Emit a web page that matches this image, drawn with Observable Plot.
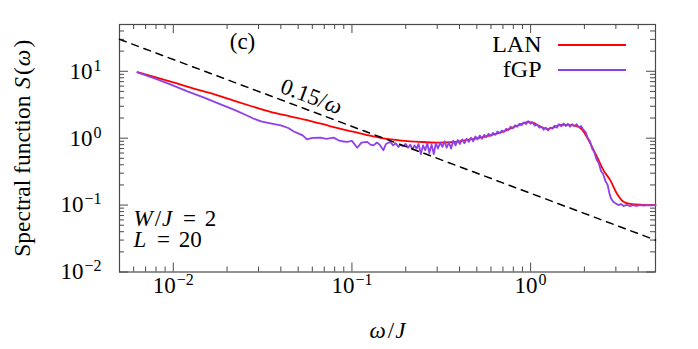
<!DOCTYPE html>
<html><head><meta charset="utf-8">
<script src="https://cdn.jsdelivr.net/npm/d3@7"></script>
<script src="https://cdn.jsdelivr.net/npm/@observablehq/plot@0.6"></script>
<style>body{margin:0;background:#fff} svg text, svg tspan{font-family:"Liberation Serif","DejaVu Serif",serif !important;}</style>
</head><body><div id="chart"></div>
<script>
// ---------- data ----------
const lanOmega = [0.0063, 0.008, 0.010, 0.013, 0.017, 0.022, 0.028, 0.035, 0.045, 0.058, 0.075, 0.095, 0.12, 0.15, 0.19, 0.24, 0.30, 0.38, 0.45, 0.55, 0.68, 0.80, 0.90, 0.96, 1.02, 1.10, 1.18, 1.25, 1.35, 1.47, 1.60, 1.74, 1.85, 1.95, 2.05, 2.16, 2.35, 2.56, 2.79, 3.04, 3.31, 3.61, 4.2, 5.0];
const lanS = [9.7, 8.1, 6.8, 5.5, 4.5, 3.6, 2.95, 2.47, 2.12, 1.82, 1.52, 1.30, 1.12, 0.99, 0.92, 0.88, 0.86, 0.88, 0.95, 1.05, 1.22, 1.45, 1.65, 1.74, 1.72, 1.56, 1.42, 1.37, 1.45, 1.58, 1.58, 1.55, 1.48, 1.32, 1.08, 0.83, 0.53, 0.33, 0.236, 0.149, 0.112, 0.104, 0.101, 0.100];

const fgpOmega = [0.0063, 0.008, 0.0097, 0.012, 0.015, 0.0184, 0.022, 0.0255, 0.028, 0.031, 0.035, 0.040, 0.044, 0.0473, 0.050, 0.053, 0.056, 0.060, 0.0667, 0.072, 0.079, 0.084, 0.088, 0.094, 0.100, 0.107, 0.113, 0.1216, 0.127, 0.132, 0.138, 0.143, 0.150, 0.155, 0.164, 0.170, 0.176, 0.182, 0.187, 0.193, 0.200, 0.206, 0.212, 0.218, 0.224, 0.230, 0.236, 0.243, 0.250, 0.257, 0.264, 0.271, 0.279, 0.287, 0.295, 0.303, 0.312, 0.321, 0.330, 0.339, 0.349, 0.359, 0.369, 0.380, 0.391, 0.402, 0.414, 0.426, 0.438, 0.451, 0.464, 0.477, 0.491, 0.505, 0.520, 0.535, 0.550, 0.566, 0.582, 0.599, 0.616, 0.634, 0.652, 0.671, 0.690, 0.710, 0.730, 0.751, 0.773, 0.795, 0.818, 0.842, 0.866, 0.891, 0.917, 0.943, 0.970, 0.998, 1.027, 1.057, 1.087, 1.118, 1.150, 1.183, 1.217, 1.252, 1.288, 1.325, 1.363, 1.402, 1.442, 1.484, 1.527, 1.571, 1.616, 1.662, 1.710, 1.759, 1.810, 1.862, 1.916, 1.971, 2.03, 2.09, 2.15, 2.21, 2.27, 2.34, 2.41, 2.48, 2.55, 2.62, 2.70, 2.76, 2.82, 2.90, 3.00, 3.10, 3.20, 3.32, 3.45, 3.60, 3.75, 3.90, 4.10, 4.30, 4.55, 4.80, 5.00];
const fgpS = [9.6, 7.7, 6.3, 5.0, 4.0, 3.2, 2.65, 2.22, 1.97, 1.78, 1.66, 1.55, 1.42, 1.26, 1.18, 1.10, 0.96, 1.01, 1.02, 0.98, 1.02, 0.93, 0.90, 0.88, 0.91, 0.72, 0.86, 0.88, 0.80, 0.78, 0.86, 0.80, 0.66, 0.82, 0.88, 0.78, 0.84, 0.74, 0.80, 0.76, 0.82, 0.72, 0.80, 0.68, 0.78, 0.70, 0.82, 0.58, 0.78, 0.66, 0.84, 0.60, 0.80, 0.58, 0.84, 0.70, 0.86, 0.74, 0.90, 0.72, 0.86, 0.70, 0.92, 0.78, 0.94, 0.82, 0.96, 0.84, 0.98, 0.88, 1.02, 0.90, 1.06, 0.96, 1.10, 0.98, 1.12, 1.04, 1.16, 1.08, 1.20, 1.12, 1.26, 1.18, 1.30, 1.24, 1.38, 1.32, 1.48, 1.40, 1.56, 1.48, 1.64, 1.56, 1.72, 1.62, 1.80, 1.64, 1.72, 1.54, 1.60, 1.44, 1.48, 1.34, 1.44, 1.30, 1.44, 1.38, 1.54, 1.44, 1.62, 1.50, 1.66, 1.52, 1.64, 1.48, 1.62, 1.50, 1.62, 1.46, 1.52, 1.34, 1.24, 1.00, 0.90, 0.70, 0.62, 0.48, 0.42, 0.32, 0.29, 0.23, 0.20, 0.15, 0.125, 0.112, 0.106, 0.100, 0.104, 0.097, 0.101, 0.096, 0.100, 0.097, 0.100, 0.098, 0.100, 0.099, 0.100];

// reference power law 0.15/omega (end points)
const refOmega = [0.005, 5];
const refS = [30, 0.03];

const xTicks = [0.01, 0.1, 1];
const xTickLabels = ["10^{\u22122}", "10^{\u22121}", "10^{0}"];
const yTicks = [0.01, 0.1, 1, 10];
const yTickLabels = ["10^{\u22122}", "10^{\u22121}", "10^{0}", "10^{1}"];
const xMinor = [0.005, 0.006, 0.007, 0.008, 0.009, 0.02, 0.03, 0.04, 0.05, 0.06, 0.07, 0.08, 0.09, 0.2, 0.3, 0.4, 0.5, 0.6, 0.7, 0.8, 0.9, 2, 3, 4];
const yMinor = [0.02, 0.03, 0.04, 0.05, 0.06, 0.07, 0.08, 0.09, 0.2, 0.3, 0.4, 0.5, 0.6, 0.7, 0.8, 0.9, 2, 3, 4, 5, 6, 7, 8, 9, 20, 30, 40];

const seriesNames = ["LAN", "fGP"];
const seriesColors = ["#ff0000", "#9040e8"];

// markup: $..$ italic, ^{..} superscript, _ = small extra gap
const xLabel = "$\u03c9$/$J$";
const yLabel = "Spectral function $S$($\u03c9$)";
const panelLabel = "(c)";
const refLabel = "0.15/$\u03c9$";
const paramLabels = ["$W$/$J$ _=_ 2", "$L$ _=_ 20"];

// ---------- tables ----------
const lan = lanOmega.map((w, i) => ({w, s: lanS[i]}));
const fgp = fgpOmega.map((w, i) => ({w, s: fgpS[i]}));
const ref = refOmega.map((w, i) => ({w, s: refS[i]}));

const W = 698, H = 349, mL = 119, mR = 43, mT = 24, mB = 77.5;
const iW = W - mL - mR, iH = H - mT - mB;
const axisCol = "#4a4a4a";
const FS = 23;
const FF = "Liberation Serif";

const plot = Plot.plot({
  width: W, height: H,
  marginLeft: mL, marginRight: mR, marginTop: mT, marginBottom: mB,
  style: {fontFamily: FF, fontSize: FS + "px", background: "#fff", color: "#000", overflow: "visible"},
  x: {type: "log", domain: [0.005, 5]},
  y: {type: "log", domain: [0.01, 50]},
  marks: [
    // inner ticks on all four sides
    Plot.tickX(xTicks, {x: d => d, insetTop: iH - 9, stroke: axisCol}),
    Plot.tickX(xTicks, {x: d => d, insetBottom: iH - 9, stroke: axisCol}),
    Plot.tickX(xMinor, {x: d => d, insetTop: iH - 5, stroke: axisCol}),
    Plot.tickX(xMinor, {x: d => d, insetBottom: iH - 5, stroke: axisCol}),
    Plot.tickY(yTicks, {y: d => d, insetRight: iW - 9, stroke: axisCol}),
    Plot.tickY(yTicks, {y: d => d, insetLeft: iW - 9, stroke: axisCol}),
    Plot.tickY(yMinor, {y: d => d, insetRight: iW - 5, stroke: axisCol}),
    Plot.tickY(yMinor, {y: d => d, insetLeft: iW - 5, stroke: axisCol}),
    Plot.axisX({ticks: xTicks, tickSize: 0, tickPadding: 5, label: null, fontFamily: FF,
      tickFormat: d => xTickLabels[xTicks.indexOf(d)]}),
    Plot.axisY({ticks: yTicks, tickSize: 0, tickPadding: 18, label: null, fontFamily: FF,
      tickFormat: d => yTickLabels[yTicks.indexOf(d)]}),
    Plot.frame({stroke: axisCol, strokeWidth: 1.2}),
    // curves
    Plot.line(lan, {x: "w", y: "s", stroke: seriesColors[0], strokeWidth: 1.8, curve: "monotone-x"}),
    Plot.line(fgp, {x: "w", y: "s", stroke: seriesColors[1], strokeWidth: 1.8}),
    Plot.line(ref, {x: "w", y: "s", stroke: "#000", strokeWidth: 1.5, strokeDasharray: "7,6"}),
    // annotations
    Plot.text([panelLabel], {frameAnchor: "top-left", dx: 123, dy: 17, textAnchor: "middle", lineAnchor: "middle", fontSize: FS, fontFamily: FF}),
    Plot.text([refLabel], {frameAnchor: "top-left", dx: 192, dy: 72, textAnchor: "middle", lineAnchor: "middle", rotate: 20.5, fontSize: FS, fontFamily: FF}),
    Plot.text([paramLabels.join("\n")], {frameAnchor: "bottom-left", dx: 14, dy: -25, textAnchor: "start", lineAnchor: "bottom", lineHeight: 21.5 / FS, fontSize: FS, fontFamily: FF}),
    // legend labels
    Plot.text([seriesNames[0]], {frameAnchor: "top-right", dx: -114, dy: 27.5, textAnchor: "end", lineAnchor: "bottom", fontSize: FS + 1, fontFamily: FF}),
    Plot.text([seriesNames[1]], {frameAnchor: "top-right", dx: -114, dy: 52, textAnchor: "end", lineAnchor: "bottom", fontSize: FS + 1, fontFamily: FF}),
    // axis titles
    Plot.text([xLabel], {frameAnchor: "bottom", dy: 66, lineAnchor: "bottom", textAnchor: "middle", fontSize: FS, fontFamily: FF}),
    Plot.text([yLabel], {frameAnchor: "left", dx: -97, rotate: -90, textAnchor: "middle", lineAnchor: "middle", fontSize: FS + 0.5, fontFamily: FF})
  ]
});

// rich text rendering of the small markup (works on a text or on its line tspans)
const NS = "http://www.w3.org/2000/svg";
function richifyNode(el) {
  const s = el.textContent;
  if (!/[\$\^_]/.test(s)) return;
  el.textContent = "";
  let italic = false, buf = "", raised = false, gap = 0, prevItalic = null, i = 0;
  const flush = () => {
    if (!buf) return;
    const t = document.createElementNS(NS, "tspan");
    if (italic) t.setAttribute("font-style", "italic");
    let dx = gap;
    if (prevItalic === true && !italic) dx += 2;
    if (prevItalic === false && italic) dx += 1;
    if (dx) t.setAttribute("dx", dx);
    if (raised) { t.setAttribute("dy", "8"); raised = false; }
    t.textContent = buf; el.appendChild(t); buf = "";
    gap = 0; prevItalic = italic;
  };
  while (i < s.length) {
    const c = s[i];
    if (c === "$") { flush(); italic = !italic; i++; continue; }
    if (c === "_") { flush(); gap += 3; i++; continue; }
    if (c === "^" && s[i + 1] === "{") {
      flush();
      const j = s.indexOf("}", i);
      const t = document.createElementNS(NS, "tspan");
      t.setAttribute("dy", "-8");
      t.setAttribute("font-size", "16");
      t.setAttribute("dx", "1");
      t.textContent = s.slice(i + 2, j);
      el.appendChild(t); raised = true;
      i = j + 1; continue;
    }
    buf += c; i++;
  }
  flush();
}
plot.querySelectorAll("text").forEach(el => {
  el.setAttribute("font-family", FF);
  const lines = Array.from(el.children).filter(c => c.tagName.toLowerCase() === "tspan");
  if (lines.length) lines.forEach(richifyNode); else richifyNode(el);
});

// legend line samples
const svg = d3.select(plot);
const legendY = [45, 70];
seriesColors.forEach((c, k) => {
  svg.append("line").attr("x1", 558).attr("x2", 626).attr("y1", legendY[k]).attr("y2", legendY[k])
    .attr("stroke", c).attr("stroke-width", 1.8);
});

document.getElementById("chart").appendChild(plot);
</script>
</body></html>
